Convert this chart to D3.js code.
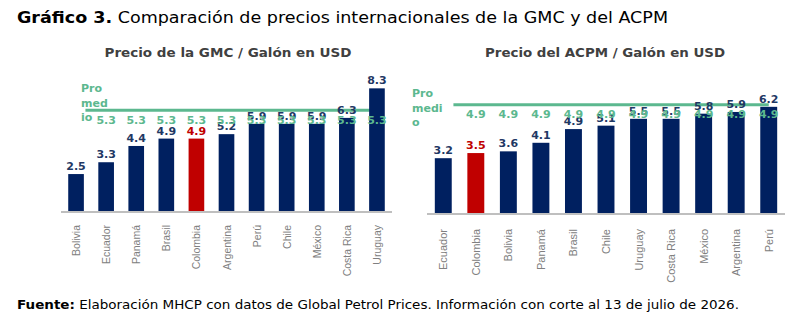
<!DOCTYPE html>
<html>
<head>
<meta charset="utf-8">
<script src="https://cdn.jsdelivr.net/npm/d3@7"></script>
<style>
  body { margin: 0; background: #fff; }
  svg { display: block; }
</style>
</head>
<body>
<script>
// Chart data
var gmcCountries = ["Bolivia", "Ecuador", "Panamá", "Brasil", "Colombia", "Argentina", "Perú", "Chile", "México", "Costa Rica", "Uruguay"];
var gmcValues = [2.5, 3.3, 4.4, 4.9, 4.9, 5.2, 5.9, 5.9, 5.9, 6.3, 8.3];
var gmcAverage = [5.3, 5.3, 5.3, 5.3, 5.3, 5.3, 5.3, 5.3, 5.3, 5.3, 5.3];

var acpmCountries = ["Ecuador", "Colombia", "Bolivia", "Panamá", "Brasil", "Chile", "Uruguay", "Costa Rica", "México", "Argentina", "Perú"];
var acpmValues = [3.2, 3.5, 3.6, 4.1, 4.9, 5.1, 5.5, 5.5, 5.8, 5.9, 6.2];
var acpmAverage = [4.9, 4.9, 4.9, 4.9, 4.9, 4.9, 4.9, 4.9, 4.9, 4.9, 4.9];

var highlight = "Colombia";

// Colours
var navy = "#002060";
var red = "#c00000";
var green = "#5cb88f";
var navyText = "#1f3864";

var svgWidth = 802;
var svgHeight = 322;

var svg = d3.select("body")
  .append("svg")
  .attr("width", svgWidth)
  .attr("height", svgHeight);

// Main title
var title = svg.append("text")
  .attr("x", 17)
  .attr("y", 23)
  .attr("font-family", "DejaVu Sans")
  .attr("font-size", "16px")
  .attr("fill", "#000");
title.append("tspan").attr("font-weight", "bold").text("Gráfico 3.");
title.append("tspan").text(" Comparación de precios internacionales de la GMC y del ACPM");
title.attr("textLength", 651).attr("lengthAdjust", "spacingAndGlyphs");

// Footer
var foot = svg.append("text")
  .attr("x", 17)
  .attr("y", 309)
  .attr("font-family", "DejaVu Sans")
  .attr("font-size", "12px")
  .attr("fill", "#000");
foot.append("tspan").attr("font-weight", "bold").text("Fuente:");
foot.append("tspan").text(" Elaboración MHCP con datos de Global Petrol Prices. Información con corte al 13 de julio de 2026.");
foot.attr("textLength", 722).attr("lengthAdjust", "spacingAndGlyphs");

function drawChart(opts) {
  var g = svg.append("g");

  var x = d3.scaleBand()
    .domain(opts.countries)
    .range(opts.xRange)
    .paddingInner(0.48)
    .paddingOuter(0.24);

  var y = d3.scaleLinear()
    .domain([0, opts.yMax])
    .range([opts.baseY, opts.topY]);

  // secondary axis for the average line
  var y2 = d3.scaleLinear()
    .domain([0, opts.y2Max])
    .range([opts.baseY, opts.topY]);

  // subtitle
  g.append("text")
    .attr("x", opts.titleX)
    .attr("y", 57)
    .attr("text-anchor", "middle")
    .attr("font-family", "DejaVu Sans")
    .attr("font-weight", "bold")
    .attr("font-size", "12px")
    .attr("fill", "#404040")
    .attr("textLength", opts.titleW)
    .attr("lengthAdjust", "spacingAndGlyphs")
    .text(opts.title);

  // average line (behind bars)
  var line = d3.line()
    .x(function(d, i) { return i === 0 ? x(opts.countries[0]) + x.bandwidth() * 1.1 : x(opts.countries[i]) + x.bandwidth() / 2; })
    .y(function(d) { return y2(d); });

  g.append("path")
    .datum(opts.average)
    .attr("d", line)
    .attr("fill", "none")
    .attr("stroke", green)
    .attr("stroke-width", 3);

  // bars
  g.selectAll("rect.bar")
    .data(opts.values)
    .enter()
    .append("rect")
    .attr("class", "bar")
    .attr("x", function(d, i) { return x(opts.countries[i]); })
    .attr("y", function(d) { return y(d); })
    .attr("width", x.bandwidth())
    .attr("height", function(d) { return opts.baseY - y(d); })
    .attr("fill", function(d, i) { return opts.countries[i] === highlight ? red : navy; });

  // axis line
  g.append("line")
    .attr("x1", opts.xRange[0])
    .attr("x2", opts.xRange[1])
    .attr("y1", opts.baseY + 1)
    .attr("y2", opts.baseY + 1)
    .attr("stroke", "#bfbfbf")
    .attr("stroke-width", 2);

  // category labels
  g.selectAll("text.cat")
    .data(opts.countries)
    .enter()
    .append("text")
    .attr("class", "cat")
    .attr("transform", function(d) {
      return "translate(" + (x(d) + x.bandwidth() / 2 + 4) + "," + (opts.baseY + opts.catGap) + ") rotate(-90)";
    })
    .attr("text-anchor", "end")
    .attr("font-family", "Liberation Sans")
    .attr("font-size", opts.catSize)
    .attr("fill", "#808080")
    .text(function(d) { return d; });

  // value labels
  g.selectAll("text.val")
    .data(opts.values)
    .enter()
    .append("text")
    .attr("class", "val")
    .attr("x", function(d, i) { return x(opts.countries[i]) + x.bandwidth() / 2; })
    .attr("y", function(d) { return y(d) - 4; })
    .attr("text-anchor", "middle")
    .attr("font-family", "DejaVu Sans")
    .attr("font-weight", "bold")
    .attr("font-size", "11px")
    .attr("fill", function(d, i) { return opts.countries[i] === highlight ? red : navyText; })
    .text(function(d) { return d3.format(".1f")(d); });

  // average labels (the first point carries the series name instead)
  g.selectAll("text.avg")
    .data(opts.average.slice(1))
    .enter()
    .append("text")
    .attr("class", "avg")
    .attr("x", function(d, i) { return x(opts.countries[i + 1]) + x.bandwidth() / 2; })
    .attr("y", function(d) { return y2(d) + 13.5; })
    .attr("text-anchor", "middle")
    .attr("font-family", "DejaVu Sans")
    .attr("font-weight", "bold")
    .attr("font-size", "11px")
    .attr("fill", green)
    .text(function(d) { return d3.format(".1f")(d); });

  // series name, wrapped, next to the start of the line
  g.selectAll("text.name")
    .data(opts.nameLines)
    .enter()
    .append("text")
    .attr("class", "name")
    .attr("x", opts.nameX)
    .attr("y", function(d, i) { return opts.nameY + i * 14.5; })
    .attr("font-family", "DejaVu Sans")
    .attr("font-weight", "bold")
    .attr("font-size", "11px")
    .attr("fill", green)
    .text(function(d) { return d; });
}

drawChart({
  countries: gmcCountries,
  values: gmcValues,
  average: gmcAverage,
  xRange: [61, 392],
  baseY: 211,
  topY: 78,
  yMax: 9,
  y2Max: 7,
  title: "Precio de la GMC / Galón en USD",
  titleX: 228,
  titleW: 247,
  catGap: 14,
  catSize: "10.5px",
  nameLines: ["Pro", "med", "io"],
  nameX: 81,
  nameY: 92
});

drawChart({
  countries: acpmCountries,
  values: acpmValues,
  average: acpmAverage,
  xRange: [427, 785],
  baseY: 213,
  topY: 76,
  yMax: 8,
  y2Max: 6.2,
  title: "Precio del ACPM / Galón en USD",
  titleX: 605,
  titleW: 240,
  catGap: 16,
  catSize: "11px",
  nameLines: ["Pro", "medi", "o"],
  nameX: 412,
  nameY: 97
});
</script>
</body>
</html>
